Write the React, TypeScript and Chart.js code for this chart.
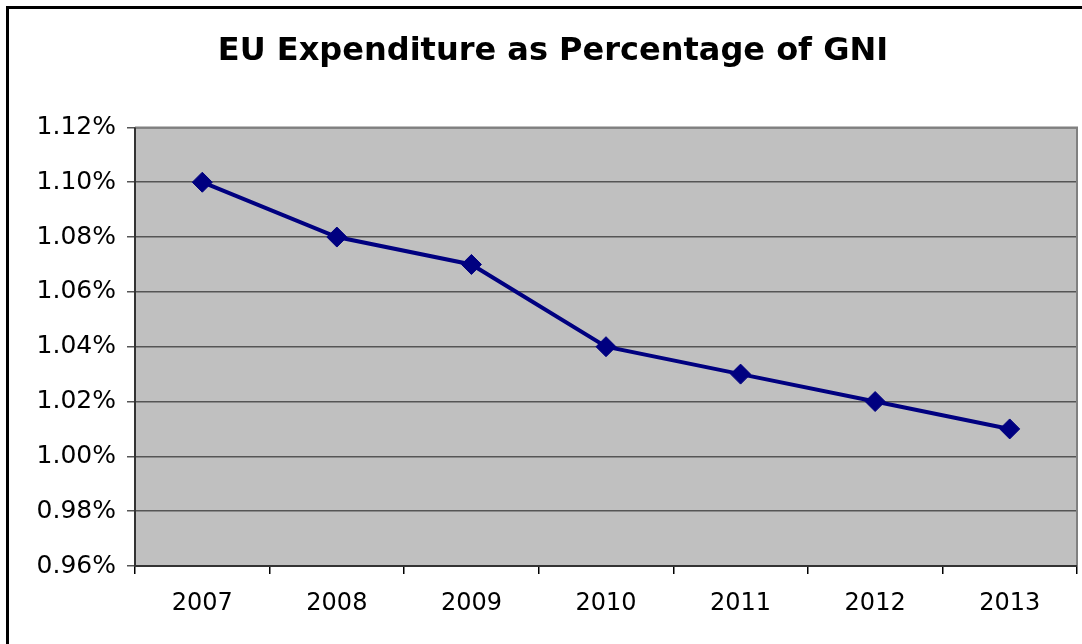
import React, { useEffect, useRef } from "react";
import { Chart, registerables } from "chart.js";

Chart.register(...registerables);

const title = "EU Expenditure as Percentage of GNI";
const years = ["2007", "2008", "2009", "2010", "2011", "2012", "2013"];
const expenditurePct = [1.1, 1.08, 1.07, 1.04, 1.03, 1.02, 1.01];
const yMin = 0.96;
const yMax = 1.12;
const yStep = 0.02;

const W = 1082;
const H = 644;

const framePlugin = {
  id: "framePlugin",
  beforeDraw(chart: any) {
    const { ctx, chartArea } = chart;
    ctx.save();
    ctx.fillStyle = "#ffffff";
    ctx.fillRect(0, 0, chart.width, chart.height);
    ctx.fillStyle = "#C0C0C0";
    ctx.fillRect(chartArea.left, chartArea.top, chartArea.right - chartArea.left, chartArea.bottom - chartArea.top);
    ctx.strokeStyle = "#000000";
    ctx.lineWidth = 3;
    ctx.beginPath();
    ctx.moveTo(7.5, chart.height + 10);
    ctx.lineTo(7.5, 7.5);
    ctx.lineTo(chart.width + 10, 7.5);
    ctx.stroke();
    ctx.restore();
  },
  beforeDatasetsDraw(chart: any) {
    const { ctx, chartArea } = chart;
    ctx.save();
    ctx.strokeStyle = "#808080";
    ctx.lineWidth = 2;
    ctx.beginPath();
    ctx.moveTo(chartArea.left, chartArea.top);
    ctx.lineTo(chartArea.right, chartArea.top);
    ctx.lineTo(chartArea.right, chartArea.bottom);
    ctx.stroke();
    ctx.strokeStyle = "#333333";
    ctx.beginPath();
    ctx.moveTo(chartArea.left, chartArea.top);
    ctx.lineTo(chartArea.left, chartArea.bottom);
    ctx.lineTo(chartArea.right, chartArea.bottom);
    ctx.stroke();
    ctx.restore();
  },
};

export default function App() {
  const ref = useRef<HTMLCanvasElement | null>(null);
  useEffect(() => {
    document.documentElement.style.overflow = "hidden";
    document.body.style.overflow = "hidden";
    if (!ref.current) return;
    const chart = new Chart(ref.current, {
      type: "line",
      data: {
        labels: years,
        datasets: [
          {
            data: expenditurePct,
            borderColor: "#000080",
            backgroundColor: "#000080",
            borderWidth: 4,
            pointStyle: "rectRot",
            pointRadius: 10,
            pointBackgroundColor: "#000080",
            pointBorderColor: "#000080",
            pointBorderWidth: 1,
            tension: 0,
          },
        ],
      },
      options: {
        responsive: false,
        animation: false,
        devicePixelRatio: 1,
        layout: { autoPadding: false, padding: { left: 29, right: 5, top: 0, bottom: 0 } },
        plugins: {
          legend: { display: false },
          tooltip: { enabled: false },
          title: {
            display: true,
            text: title,
            color: "#000000",
            font: { family: "'DejaVu Sans', Verdana, sans-serif", size: 32, weight: "bold", lineHeight: 1.2 },
            padding: { top: 32, bottom: 57 },
          },
        },
        scales: {
          x: {
            offset: true,
            afterFit: (s: any) => {
              s.height = 78;
            },
            grid: {
              offset: true,
              drawOnChartArea: false,
              drawTicks: true,
              tickLength: 8,
              color: "#000000",
              lineWidth: 1.5,
            },
            border: { display: false },
            ticks: {
              color: "#000000",
              padding: 15,
              maxRotation: 0,
              font: { family: "'DejaVu Sans', Verdana, sans-serif", size: 24 },
            },
          },
          y: {
            min: yMin,
            max: yMax,
            afterFit: (s: any) => {
              s.width = 106;
            },
            grid: {
              color: "#555555",
              lineWidth: 1.5,
              drawTicks: true,
              tickLength: 8,
            },
            border: { display: false },
            ticks: {
              stepSize: yStep,
              color: "#000000",
              padding: 11,
              font: { family: "'DejaVu Sans', Verdana, sans-serif", size: 25 },
              callback: (v: any) => Number(v).toFixed(2) + "%",
            },
          },
        },
      },
      plugins: [framePlugin],
    });
    return () => chart.destroy();
  }, []);
  return (
    <div style={{ position: "fixed", left: 0, top: 0, width: W, height: H, overflow: "hidden", background: "#fff" }}>
      <canvas ref={ref} width={W} height={H} style={{ display: "block", width: W, height: H }} />
    </div>
  );
}
